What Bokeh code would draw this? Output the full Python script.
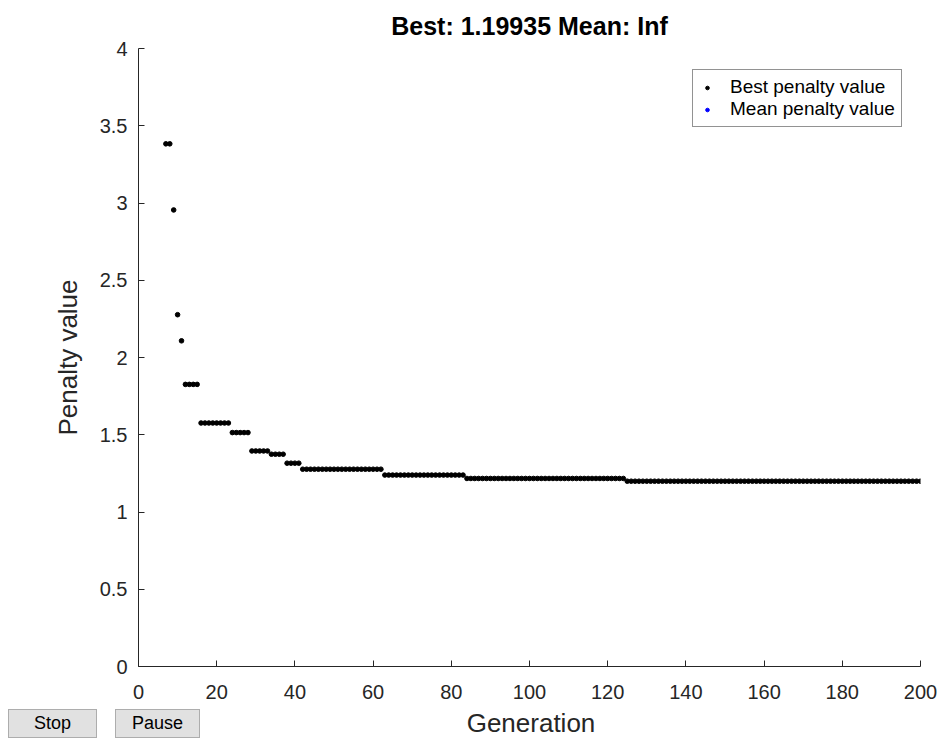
import numpy as np
from bokeh.plotting import figure
from bokeh.layouts import column, row
from bokeh.models import (Range1d, FixedTicker, NumeralTickFormatter, Legend,
                          LegendItem, Button, Div, Spacer, InlineStyleSheet)
from bokeh.embed import file_html
from bokeh.resources import INLINE

# ---- data ----
# best penalty value per generation, as constant runs of generations
gen_start = [7, 9, 10, 11, 12, 16, 24, 29, 34, 38, 42, 63, 84, 125]
gen_end = [8, 9, 10, 11, 15, 23, 28, 33, 37, 41, 62, 83, 124, 200]
best_value = [3.383, 2.955, 2.277, 2.108, 1.826, 1.576, 1.514, 1.395, 1.374,
              1.316, 1.277, 1.239, 1.217, 1.19935]
mean_gens = [200]              # mean penalty is Inf -> nothing visible
mean_value = [float("inf")]
title_text = "Best: 1.19935 Mean: Inf"
x_label = "Generation"
y_label = "Penalty value"
x_ticks = [0, 20, 40, 60, 80, 100, 120, 140, 160, 180, 200]
y_ticks = [0, 0.5, 1, 1.5, 2, 2.5, 3, 3.5, 4]
button_labels = ["Stop", "Pause"]

gens = np.concatenate([np.arange(s, e + 1) for s, e in zip(gen_start, gen_end)])
vals = np.concatenate([np.full(e - s + 1, v) for s, e, v in zip(gen_start, gen_end, best_value)])

FONT = "Liberation Sans"
TXT = "#262626"

p = figure(width=939, height=709, output_backend="svg", toolbar_location=None,
           x_range=Range1d(0, 200), y_range=Range1d(0, 4),
           min_border_left=138, min_border_right=19, min_border_top=48,
           min_border_bottom=43)
p.outline_line_color = None
p.grid.visible = False
p.background_fill_color = "white"
p.border_fill_color = "white"

p.title.text = title_text
p.title.align = "center"
p.title.text_font = FONT
p.title.text_font_size = "25px"
p.title.text_font_style = "bold"
p.title.text_color = "#000000"
p.title.standoff = 17

for ax in (p.xaxis[0], p.yaxis[0]):
    ax.major_tick_in = 6
    ax.major_tick_out = 0
    ax.minor_tick_in = 0
    ax.minor_tick_out = 0
    ax.axis_line_color = TXT
    ax.major_tick_line_color = TXT
    ax.major_label_text_font = FONT
    ax.major_label_text_font_size = "20px"
    ax.major_label_text_color = TXT
    ax.axis_label_text_font = FONT
    ax.axis_label_text_font_size = "26px"
    ax.axis_label_text_font_style = "normal"
    ax.axis_label_text_color = TXT

p.xaxis.ticker = FixedTicker(ticks=x_ticks)
p.yaxis.ticker = FixedTicker(ticks=y_ticks)
p.yaxis.formatter = NumeralTickFormatter(format="0.[0]")
p.yaxis.axis_label = y_label
p.xaxis.major_label_standoff = 18
p.yaxis.major_label_standoff = 11
p.yaxis.axis_label_standoff = 14

r_best = p.scatter(gens, vals, size=4.6, color="black", marker="circle")
r_mean = p.scatter(mean_gens, mean_value, size=4.6, color="blue", marker="circle")

legend = Legend(items=[LegendItem(label="Best penalty value", renderers=[r_best]),
                       LegendItem(label="Mean penalty value", renderers=[r_mean])],
                location=(554, 539))
legend.label_text_font = FONT
legend.label_text_font_size = "19px"
legend.label_text_color = "#000000"
legend.border_line_color = TXT
legend.border_line_width = 1
legend.padding = 6
legend.spacing = 0
legend.margin = 0
legend.glyph_width = 16
legend.glyph_height = 9
legend.label_standoff = 15
legend.label_height = 20
p.add_layout(legend)

# bottom strip: the two GA buttons and the x-axis title beside them
btn_css = InlineStyleSheet(css="""
.bk-btn, .bk-btn.bk-btn-default {
  background: #e1e1e1 !important; border: 1px solid #adadad !important;
  border-radius: 0 !important; color: #000 !important; padding: 0 !important;
  font-family: 'Liberation Sans', sans-serif !important; font-size: 18px !important;
  width: 100%; height: 100%; box-shadow: none !important;
}
""")
stop_btn = Button(label=button_labels[0], width=89, height=29, margin=0, stylesheets=[btn_css])
pause_btn = Button(label=button_labels[1], width=85, height=29, margin=0, stylesheets=[btn_css])
gen_div = Div(text=('<div style="display:block;width:662px;text-align:center;'
                    'font-family:\'Liberation Sans\';font-size:26px;color:#262626;'
                    'line-height:29px;white-space:nowrap">' + x_label + '</div>'),
              width=662, height=29, margin=0,
              stylesheets=[InlineStyleSheet(css=":host{width:662px}.bk-clearfix{width:662px}")])
bottom = row(Spacer(width=8, height=29), stop_btn, Spacer(width=18, height=29),
             pause_btn, gen_div, spacing=0)
layout = column(p, bottom, spacing=0)

open("out.html", "w").write(file_html(layout, INLINE))
